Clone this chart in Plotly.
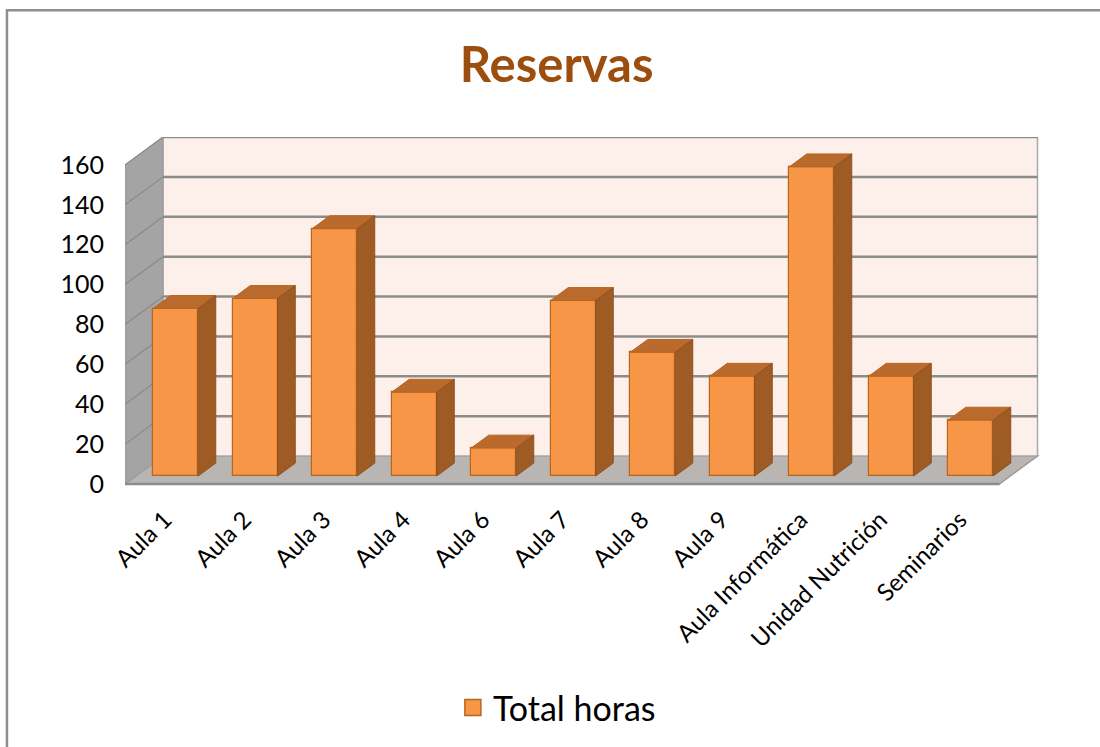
import plotly.graph_objects as go

# ---- data ----
categories = ["Aula 1", "Aula 2", "Aula 3", "Aula 4", "Aula 6", "Aula 7",
              "Aula 8", "Aula 9", "Aula Informática", "Unidad Nutrición", "Seminarios"]
total_horas = [84, 89, 124, 42, 14, 88, 62, 50, 155, 50, 28]
y_ticks = [0, 20, 40, 60, 80, 100, 120, 140, 160]
series_name = "Total horas"
title_text = "Reservas"

# ---- pseudo-3D geometry (style constants, in axis units) ----
DX, DY = 0.478, 14.0           # depth of the floor (x in category units, y in value units)
F1, F2 = 0.286, 0.75           # bar front / back position inside the depth
BAR_W = 0.566
YMAX = max(y_ticks)
n = len(categories)

front_col = "#F79646"
edge_col = "#B8651F"
top_col = "#B96A2C"
side_col = "#9E5B24"
wall_col = "#FDF0EA"
floor_col = "#B8B5B3"
side_wall_col = "#A4A4A4"
grid_col = "#8C8C8C"

x_left = -0.5
x_right = n - 0.5

fig = go.Figure()

shapes = []
# floor
shapes.append(dict(type="path", xref="x", yref="y", layer="below",
                   path=f"M{x_left},0 L{x_right},0 L{x_right+DX},{DY} L{x_left+DX},{DY} Z",
                   fillcolor=floor_col, line=dict(color="#9A9A9A", width=1.5)))
# back wall
shapes.append(dict(type="path", xref="x", yref="y", layer="below",
                   path=f"M{x_left+DX},{DY} L{x_right+DX},{DY} L{x_right+DX},{YMAX+DY} L{x_left+DX},{YMAX+DY} Z",
                   fillcolor=wall_col, line=dict(color="#A8A8A8", width=1.5)))
# left side wall
shapes.append(dict(type="path", xref="x", yref="y", layer="below",
                   path=f"M{x_left},0 L{x_left+DX},{DY} L{x_left+DX},{YMAX+DY} L{x_left},{YMAX} Z",
                   fillcolor=side_wall_col, line=dict(color="#9A9A9A", width=1)))
# gridlines
for t in y_ticks[1:]:
    shapes.append(dict(type="line", xref="x", yref="y", layer="below",
                       x0=x_left+DX, x1=x_right+DX, y0=t+DY, y1=t+DY,
                       line=dict(color=grid_col, width=2.5)))
    shapes.append(dict(type="line", xref="x", yref="y", layer="below",
                       x0=x_left, x1=x_left+DX, y0=t, y1=t+DY,
                       line=dict(color="#8A8A8A", width=1.2)))
# floor front edge
shapes.append(dict(type="line", xref="x", yref="y", layer="below",
                   x0=x_left, x1=x_right, y0=0, y1=0,
                   line=dict(color="#8C8C8C", width=2.5)))

# outer chart border (left + top)
shapes.append(dict(type="path", xref="paper", yref="paper", layer="above",
                   path="M-0.129,-1 L-0.129,1.363 L1.2,1.363",
                   line=dict(color="#8E8E8E", width=2.5)))

# ---- bars: front faces ----
x_front = [i + F1 * DX for i in range(n)]
base_front = F1 * DY
fig.add_trace(go.Bar(
    x=x_front, y=total_horas, base=[base_front] * n, width=BAR_W,
    marker=dict(color=front_col, line=dict(color=edge_col, width=1.2)),
    name=series_name, legendgroup="s", showlegend=False, hoverinfo="skip"))

# top and side faces
ddx = (F2 - F1) * DX
ddy = (F2 - F1) * DY
tx, ty, sx, sy = [], [], [], []
for xc, v in zip(x_front, total_horas):
    xl, xr = xc - BAR_W / 2, xc + BAR_W / 2
    yt = base_front + v
    tx += [xl, xr, xr + ddx, xl + ddx, xl, None]
    ty += [yt, yt, yt + ddy, yt + ddy, yt, None]
    sx += [xr, xr + ddx, xr + ddx, xr, xr, None]
    sy += [base_front, base_front + ddy, yt + ddy, yt, base_front, None]

fig.add_trace(go.Scatter(x=tx, y=ty, mode="lines", fill="toself", fillcolor=top_col,
                         line=dict(color=edge_col, width=1), showlegend=False, hoverinfo="skip"))
fig.add_trace(go.Scatter(x=sx, y=sy, mode="lines", fill="toself", fillcolor=side_col,
                         line=dict(color="#8E5020", width=1), showlegend=False, hoverinfo="skip"))

# legend entry (square swatch like the original)
fig.add_trace(go.Scatter(x=[None], y=[None], mode="markers", name=series_name, legendgroup="s",
                         marker=dict(symbol="square", size=20, color=front_col,
                                     line=dict(color=edge_col, width=1.5)),
                         showlegend=True, hoverinfo="skip"))

fig.update_layout(
    width=1100, height=747,
    margin=dict(l=125, r=60, t=137, b=260),
    paper_bgcolor="white", plot_bgcolor="rgba(0,0,0,0)",
    font=dict(family="Lato, Carlito, Calibri, sans-serif", color="black"),
    title=dict(text=title_text, x=0.506, xref="container", xanchor="center",
               y=0.913, yref="container", yanchor="middle",
               font=dict(size=49, color="#9C4E0E", weight="bold")),
    shapes=shapes,
    showlegend=True,
    legend=dict(orientation="h", x=0.472, xanchor="center", y=-0.631, yanchor="middle",
                font=dict(size=34, color="black"), bgcolor="rgba(0,0,0,0)",
                itemsizing="trace"),
    xaxis=dict(range=[x_left, x_left + 915 / 79.5], tickvals=list(range(n)), ticktext=categories,
               tickangle=-45, tickfont=dict(size=24), showgrid=False, zeroline=False,
               showline=False, ticks="", ticklabelstandoff=14, fixedrange=True),
    yaxis=dict(range=[-1, YMAX + DY], tickvals=y_ticks, ticktext=[str(t) for t in y_ticks],
               tickfont=dict(size=25), showgrid=False, zeroline=False, showline=False,
               ticks="", ticklabelstandoff=20, fixedrange=True),
    bargap=0,
)

fig.write_html("out.html", config={"displayModeBar": False},
               post_script="document.body.style.margin='0';document.body.style.overflow='hidden';")
